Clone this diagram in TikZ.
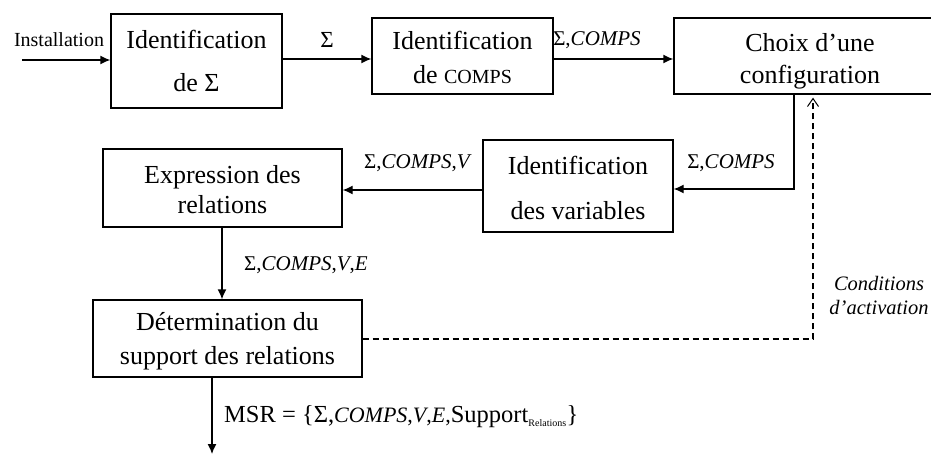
\documentclass[tikz,border=0pt]{standalone}
\usepackage{fontspec}
\setmainfont{Liberation Serif}
\usetikzlibrary{arrows.meta}

\newcommand\cmps{\textit{COMPS}}

\begin{document}
\begin{tikzpicture}[x=1pt,y=-1pt,
  box/.style={draw, line width=1.3pt, inner sep=0pt, align=center},
  arr/.style={line width=1.3pt, -{Latex[length=10pt,width=9pt]}},
  lab/.style={inner sep=0pt, font=\fontsize{21}{21}\selectfont},
]
\useasboundingbox (0,0) rectangle (931,454);

% process boxes
\node[box, minimum width=171pt, minimum height=94pt, font=\fontsize{26}{43}\selectfont]
  (b1) at (196.5,61) {Identification\\de Σ};
\node[box, minimum width=181pt, minimum height=76pt, font=\fontsize{26}{34}\selectfont]
  (b2) at (462.5,56) {\rule{0pt}{21pt}Identification\\de {\fontsize{20}{20}\selectfont COMPS}};
\node[box, minimum width=272pt, minimum height=76pt, font=\fontsize{26}{32}\selectfont]
  (b3) at (810,56) {\rule{0pt}{28pt}Choix d’une\\configuration};
\node[box, minimum width=190pt, minimum height=92pt, font=\fontsize{26}{45}\selectfont]
  (b4) at (578,186) {\rule{0pt}{22pt}Identification\\des variables};
\node[box, minimum width=239pt, minimum height=78pt, font=\fontsize{26}{30}\selectfont]
  (b5) at (222.5,188) {\rule{0pt}{22pt}Expression des\\relations};
\node[box, minimum width=269pt, minimum height=77pt, font=\fontsize{26}{34}\selectfont]
  (b6) at (227.5,338.5) {\rule{0pt}{23pt}Détermination du\\support des relations};

% helper coordinates
\coordinate (in0) at (22,60);
\coordinate (y59) at (0,59);
\coordinate (c1) at (794,189);
\coordinate (y190) at (0,190);
\coordinate (x222) at (222,0);
\coordinate (out) at (212,454);
\coordinate (c2) at (813,339);

% connectors
\draw[arr] (in0) -- (in0 -| b1.west);
\draw[arr] (b1.east |- y59) -- (b2.west |- y59);
\draw[arr] (b2.east |- y59) -- (b3.west |- y59);
\draw[arr] (c1 |- b3.south) -- (c1) -- (b4.east |- c1);
\draw[arr] (b4.west |- y190) -- (b5.east |- y190);
\draw[arr] (x222 |- b5.south) -- (x222 |- b6.north);
\draw[arr] (out |- b6.south) -- (out);
\draw[line width=1.3pt, dash pattern=on 6pt off 4pt, shorten >=3pt,
  -{Straight Barb[length=8pt,width=11pt,line width=1pt]}]
  (b6.east |- c2) -- (c2) -- (c2 |- b3.south);

% labels
\node[lab, font=\fontsize{20}{20}\selectfont] (lin) at (59,40) {Installation};
\node[lab, font=\fontsize{23}{23}\selectfont] (l12) at (327,40) {Σ};
\node[lab] (l23) at (597,40) {Σ,\cmps};
\node[lab] (l34) at (731,163) {Σ,\cmps};
\node[lab] (l45) at (418,163) {Σ,\cmps,\textit{V}};
\node[lab] (l56) at (306,265) {Σ,\cmps,\textit{V},\textit{E}};
\node[lab, anchor=west, font=\fontsize{24.5}{24.5}\selectfont] (msr) at (224,417)
  {MSR = \{Σ,{\fontsize{22}{22}\selectfont\cmps,\textit{V},\textit{E},}Support\textsubscript{\fontsize{10}{10}\selectfont Relations}\}};
\node[lab, align=center, font=\fontsize{20.5}{24}\selectfont\itshape] (cond) at (879,295)
  {Conditions\\d’activation};
\end{tikzpicture}
\end{document}
